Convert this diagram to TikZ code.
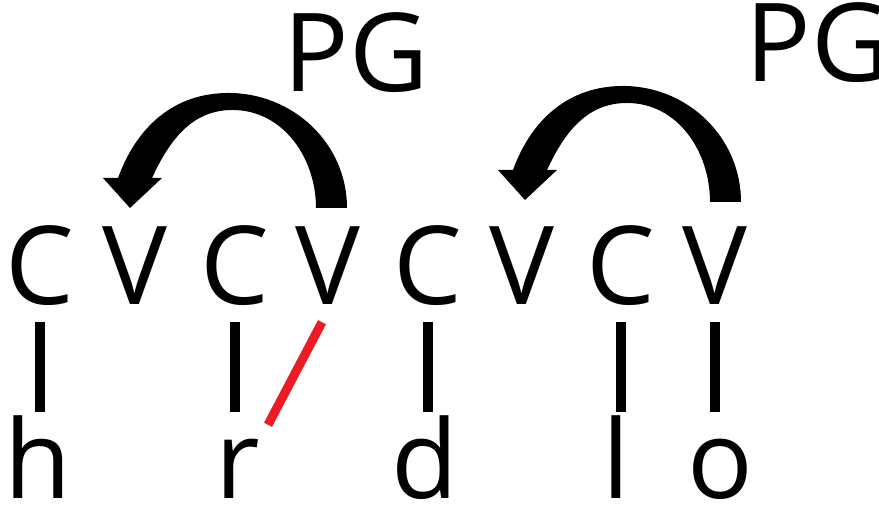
\documentclass[tikz,border=0pt]{standalone}
\usepackage{fontspec}
\setmainfont{Open Sans}
\usetikzlibrary{calc}
\definecolor{LinkRed}{RGB}{237,28,36}

% thick curved PG arrow: #1 tail point, #2 tip point
\newcommand{\pgarrow}[2]{%
  \fill ($(#1)+(-15,0)$) to[out=90,in=0] ($(#1)!0.5!(#2)+(2,98)$)
    to[out=180,in=65] ($(#2)+(22,30)$) -- ($(#2)+(32,30)$) -- (#2)
    -- ($(#2)+(-27,30)$) -- ($(#2)+(-12,30)$)
    to[out=70,in=180] ($(#1)!0.5!(#2)+(-2,115)$)
    to[out=0,in=90] ($(#1)+(16,0)$) -- cycle;}

\begin{document}
\begin{tikzpicture}[
    x=1pt, y=1pt,
    every node/.style={font=\fontsize{109}{110}\selectfont, inner sep=0pt},
    slot/.style={anchor=base, text depth=0pt},
    seg/.style={anchor=base, text height=85pt, text depth=0pt},
    assoc/.style={line width=10pt, shorten <=17pt, shorten >=2pt},
]
\useasboundingbox (0,0) rectangle (879,510);

% CV skeleton
\node[slot] (c1) at (40,205) {C};
\node[slot] (v1) at (135,205) {V};
\node[slot] (c2) at (235,205) {C};
\node[slot] (v2) at (328,205) {V};
\node[slot] (c3) at (428,205) {C};
\node[slot] (v3) at (522,205) {V};
\node[slot] (c4) at (621,205) {C};
\node[slot] (v4) at (715,205) {V};

% melody
\node[seg] (h) at (38,11) {h};
\node[seg] (r) at (238,11) {r};
\node[seg] (d) at (425,11) {d};
\node[seg] (l) at (616,11) {l};
\node[seg] (o) at (720,11) {o};

% associations
\draw[assoc] (c1.south) -- (c1.south |- h.north);
\draw[assoc] (c2.south) -- (c2.south |- r.north);
\draw[assoc] (c3.south) -- (c3.south |- d.north);
\draw[assoc] (c4.south) -- (c4.south |- l.north);
\draw[assoc] (v4.south) -- (v4.south |- o.north);
\draw[line width=9pt, LinkRed] ([xshift=-6pt,yshift=-17pt]v2.south) -- ([xshift=30pt,yshift=-11pt]r.north);

% PG arrows
\node[anchor=base] (pg1) at (356,418) {PG};
\node[anchor=base] (pg2) at (818,428) {PG};
\coordinate (tail1) at ([xshift=3pt,yshift=19pt]v2.north);
\coordinate (tip1) at ([xshift=-5pt,yshift=19pt]v1.north);
\coordinate (tail2) at ([xshift=10pt,yshift=25pt]v4.north);
\coordinate (tip2) at ([xshift=3pt,yshift=27pt]v3.north);
\pgarrow{tail1}{tip1}
\pgarrow{tail2}{tip2}

\end{tikzpicture}
\end{document}
